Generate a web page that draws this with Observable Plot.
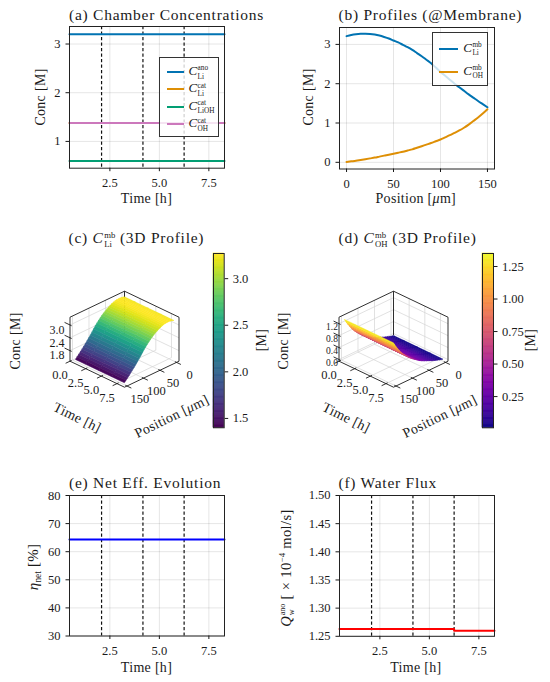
<!DOCTYPE html>
<html><head><meta charset="utf-8">
<script src="https://cdn.jsdelivr.net/npm/d3@7"></script>
<script src="https://cdn.jsdelivr.net/npm/@observablehq/plot@0.6"></script>
<style>
body{margin:0;background:#fff}
#fig{position:relative;width:550px;height:682px;overflow:hidden;background:#fff;font-family:"Liberation Serif",serif;color:#1a1a1a}
.lbl{position:absolute;white-space:nowrap;line-height:1.15;transform-origin:center center}
.ss{display:inline-block;vertical-align:-0.5em;font-size:0.56em;line-height:1.12;text-align:left;margin-left:0.06em;letter-spacing:0}
.ss span{display:block}
.sb{font-size:0.62em;vertical-align:-0.3em;letter-spacing:0}
.sp{font-size:0.62em;vertical-align:0.6em;letter-spacing:0}
#fig svg{position:absolute}
.leg{position:absolute;box-sizing:border-box;border:1px solid #333;background:rgba(255,255,255,0.8)}
.leg .ln{position:absolute;height:2px}
.leg .tx{position:absolute;white-space:nowrap;font-size:13px;line-height:1.15;transform:translateY(-50%)}
</style></head><body><div id="fig"></div><script>
const fig = document.getElementById("fig");
const FONT = "Liberation Serif";

// ---------------- data ----------------
const timeSpan = [0.46, 8.29];                 // h
const cycleMarks = [2.08, 4.17, 6.25];         // dashed markers, h
const timeTicks = [2.5, 5.0, 7.5];

const chamberSup = ["ano", "cat", "cat", "cat"];
const chamberSub = ["Li", "Li", "LiOH", "OH"];
const chamberNames = ["Li ano", "Li cat", "LiOH cat", "OH cat"];
const chamberValues = [3.20, 1.38, 0.60, 1.38];   // M
const chamberColors = ["#0173b2", "#de8f05", "#029e73", "#cc78bc"];

const positions = [0, 5, 10, 15, 20, 25, 30, 35, 40, 45, 50, 55, 60, 65, 70, 75,
  80, 85, 90, 95, 100, 105, 110, 115, 120, 125, 130, 135, 140, 145, 150]; // um
const liProfile = [3.21, 3.24, 3.26, 3.27, 3.27, 3.265, 3.25, 3.225, 3.19, 3.15, 3.10, 3.05, 2.99, 2.93, 2.86, 2.78,
  2.70, 2.61, 2.52, 2.41, 2.30, 2.20, 2.10, 2.00, 1.91, 1.82, 1.73, 1.645, 1.56, 1.48, 1.40];
const ohProfile = [0.01, 0.025, 0.04, 0.06, 0.08, 0.10, 0.12, 0.145, 0.17, 0.195, 0.22, 0.245, 0.27, 0.30, 0.33, 0.37,
  0.41, 0.45, 0.49, 0.535, 0.58, 0.635, 0.69, 0.75, 0.81, 0.88, 0.96, 1.05, 1.14, 1.24, 1.35];
const profileSub = ["Li", "OH"];
const profileColors = ["#0173b2", "#de8f05"];
const posTicks = [0, 50, 100, 150];

const surfaceTimes = [0.46, 2.08, 4.17, 6.25, 8.29];
const time3dTicks = [0.0, 2.5, 5.0, 7.5];
const axisTime3d = [0.0, 8.7];
const axisPos3d = [-7.5, 157.5];
const liZTicks = [1.8, 2.4, 3.0];
const ohZTicks = [0.0, 0.4, 0.8, 1.2];
const liBarTicks = [1.5, 2.0, 2.5, 3.0];
const ohBarTicks = [0.25, 0.50, 0.75, 1.00, 1.25];

const etaTimes = [0.46, 8.29];
const etaValues = [64.3, 64.3];               // %
const etaTicks = [30, 40, 50, 60, 70, 80];

const fluxTimes = [0.46, 6.25, 6.25, 8.29];
const fluxValues = [1.263, 1.263, 1.260, 1.260]; // x1e-4 mol/s
const fluxTicks = [1.25, 1.30, 1.35, 1.40, 1.45, 1.50];

// ---------------- helpers ----------------
const ss = (sup, sub) => `<span class="ss"><span>${sup}</span><span>${sub}</span></span>`;
const mC = (sup, sub) => `<i>C</i>${ss(sup, sub)}`;

function addLabel(html, cx, cy, {size = 14, rot = 0, spacing = 0.3, start = false} = {}) {
  const d = document.createElement("div");
  d.className = "lbl";
  d.innerHTML = html;
  d.style.fontSize = size + "px";
  d.style.letterSpacing = spacing + "px";
  d.style.left = cx + "px";
  d.style.top = cy + "px";
  d.style.transform = `translate(${start ? "0" : "-50%"},-50%) rotate(${rot}deg)`;
  fig.append(d);
}
function place(svg, left, top) {
  svg.style.left = left + "px";
  svg.style.top = top + "px";
  fig.append(svg);
}
const baseStyle = {fontFamily: FONT, fontSize: "12.5px", background: "transparent", overflow: "visible", color: "#1a1a1a"};
const gridStyle = {stroke: "#000", strokeOpacity: 0.13, strokeWidth: 0.8};

function panel2d(o) {
  const ml = 60, mt = 20, mr = 12, mb = 28;
  const svg = Plot.plot({
    width: o.fw + ml + mr, height: o.fh + mt + mb,
    marginLeft: ml, marginTop: mt, marginRight: mr, marginBottom: mb,
    x: {domain: o.xDomain}, y: {domain: o.yDomain},
    color: o.color,
    style: baseStyle,
    marks: [
      Plot.gridX({ticks: o.xTicks, ...gridStyle}),
      Plot.gridY({ticks: o.yTicks, ...gridStyle}),
      ...o.marks,
      Plot.frame({stroke: "#222", strokeWidth: 1}),
      Plot.axisX({ticks: o.xTicks, tickSize: 3.5, tickPadding: 6.5, tickFormat: o.xFmt, label: null}),
      Plot.axisY({ticks: o.yTicks, tickSize: 3.5, tickPadding: 5.5, tickFormat: o.yFmt, label: null})
    ]
  });
  place(svg, o.fx - ml, o.fy - mt);
}
const dashed = () => Plot.ruleX(cycleMarks, {stroke: "#111", strokeWidth: 1.2, strokeDasharray: "3.2,2.3"});
const f1 = d3.format(".1f");

// ---------------- (a) ----------------
const chamberRows = chamberNames.flatMap((n, i) => timeSpan.map(t => ({t, c: chamberValues[i], n})));
panel2d({
  fx: 69, fy: 26.3, fw: 155, fh: 141.7,
  xDomain: timeSpan, yDomain: [0.45, 3.36], xTicks: timeTicks, yTicks: [1, 2, 3],
  xFmt: f1, yFmt: d3.format("d"),
  color: {domain: chamberNames, range: chamberColors},
  marks: [dashed(), Plot.line(chamberRows, {x: "t", y: "c", z: "n", stroke: "n", strokeWidth: 2})]
});
{
  const leg = document.createElement("div");
  leg.className = "leg";
  Object.assign(leg.style, {left: "159px", top: "57px", width: "60px", height: "80px"});
  chamberNames.forEach((n, i) => {
    const y = 14 + i * 17.4;
    const ln = document.createElement("div");
    ln.className = "ln";
    Object.assign(ln.style, {left: "7px", top: (y - 1) + "px", width: "17px", background: chamberColors[i]});
    const tx = document.createElement("div");
    tx.className = "tx";
    tx.style.left = "28.5px"; tx.style.top = y + "px";
    tx.innerHTML = mC(chamberSup[i], chamberSub[i]);
    leg.append(ln, tx);
  });
  fig.append(leg);
}
addLabel("(a) Chamber Concentrations", 69, 15, {size: 15.5, spacing: 0.75, start: true});
addLabel("Conc [M]", 41, 97, {rot: -90});
addLabel("Time [h]", 146.5, 199.3);

// ---------------- (b) ----------------
const profileRows = [
  ...positions.map((p, i) => ({p, c: liProfile[i], n: profileSub[0]})),
  ...positions.map((p, i) => ({p, c: ohProfile[i], n: profileSub[1]}))
];
panel2d({
  fx: 338.5, fy: 26.5, fw: 155, fh: 141.5,
  xDomain: axisPos3d, yDomain: [-0.17, 3.43], xTicks: posTicks, yTicks: [0, 1, 2, 3],
  xFmt: d3.format("d"), yFmt: d3.format("d"),
  color: {domain: profileSub, range: profileColors},
  marks: [Plot.line(profileRows, {x: "p", y: "c", z: "n", stroke: "n", strokeWidth: 2, curve: "monotone-x"})]
});
{
  const leg = document.createElement("div");
  leg.className = "leg";
  Object.assign(leg.style, {left: "432.3px", top: "32.3px", width: "56px", height: "53.4px"});
  profileSub.forEach((n, i) => {
    const y = 15.4 + i * 23;
    const ln = document.createElement("div");
    ln.className = "ln";
    Object.assign(ln.style, {left: "6px", top: (y - 1) + "px", width: "19px", background: profileColors[i]});
    const tx = document.createElement("div");
    tx.className = "tx";
    tx.style.left = "30px"; tx.style.top = y + "px";
    tx.innerHTML = mC("mb", n);
    leg.append(ln, tx);
  });
  fig.append(leg);
}
addLabel("(b) Profiles (@Membrane)", 338.5, 15, {size: 15.5, spacing: 0.75, start: true});
addLabel("Conc [M]", 309, 97, {rot: -90});
addLabel("Position [<i>μ</i>m]", 415.8, 199.3);

// ---------------- 3D panels ----------------
function panel3d(o) {
  const A = 54.5, Bv = 26, Hz = 44;
  const tS = d3.scaleLinear(axisTime3d, [0, 1]);
  const pS = d3.scaleLinear(axisPos3d, [0, 1]);
  const ext = d3.extent(o.profile), r = ext[1] - ext[0];
  const zS = d3.scaleLinear([ext[0] - 0.05 * r, ext[1] + 0.05 * r], [0, 1]);
  const P = (u, v, w) => [o.Bx + A * (u - v), o.By + Bv * (u + v) - Hz * w];
  const seg = (p, q) => { const a = P(...p), b = P(...q); return {x1: a[0], y1: a[1], x2: b[0], y2: b[1]}; };

  const grid = [];
  time3dTicks.forEach(t => { const u = tS(t); grid.push(seg([u, 0, 0], [u, 1, 0]), seg([u, 0, 0], [u, 0, 1])); });
  posTicks.forEach(p => { const v = pS(p); grid.push(seg([0, v, 0], [1, v, 0]), seg([0, v, 0], [0, v, 1])); });
  o.zTicks.forEach(z => { const w = zS(z); grid.push(seg([0, 0, w], [0, 1, w]), seg([0, 0, w], [1, 0, w])); });

  const edges = [
    seg([0, 1, 1], [0, 0, 1]), seg([0, 0, 1], [1, 0, 1]), seg([0, 0, 0], [0, 0, 1]),
    seg([0, 1, 0], [0, 1, 1]), seg([1, 0, 0], [1, 0, 1]),
    seg([0, 1, 0], [1, 1, 0]), seg([1, 1, 0], [1, 0, 0])
  ];
  const ticks = [
    ...time3dTicks.map(t => seg([tS(t), 0.97, 0], [tS(t), 1.08, 0])),
    ...posTicks.map(p => seg([0.97, pS(p), 0], [1.08, pS(p), 0])),
    ...o.zTicks.map(z => seg([0.03, 1, zS(z)], [-0.1, 1, zS(z)]))
  ];
  const labels = [], zLabels = [];
  time3dTicks.forEach(t => { const [x, y] = P(tS(t), 1, 0); labels.push({x: x - 10, y: y + 14, s: f1(t), a: "middle"}); });
  posTicks.forEach(p => { const [x, y] = P(1, pS(p), 0); labels.push({x: x + 13, y: y + 12.5, s: String(p), a: "middle"}); });
  o.zTicks.forEach(z => { const [x, y] = P(0, 1, zS(z)); zLabels.push({x: x - o.zGap, y: y + o.zDy, s: f1(z), a: "end"}); });

  const quads = [];
  let id = 0;
  for (let j = 0; j < positions.length - 1; j++) {
    for (let k = 0; k < surfaceTimes.length - 1; k++) {
      const u0 = tS(surfaceTimes[k]), u1 = tS(surfaceTimes[k + 1]);
      const v0 = pS(positions[j]), v1 = pS(positions[j + 1]);
      const w0 = zS(o.profile[j]), w1 = zS(o.profile[j + 1]);
      const c = (o.profile[j] + o.profile[j + 1]) / 2;
      [[u0, v0, w0], [u1, v0, w0], [u1, v1, w1], [u0, v1, w1], [u0, v0, w0]].forEach(pt => {
        const [x, y] = P(...pt);
        quads.push({x, y, id, c});
      });
      id++;
    }
  }

  const X0 = o.Bx - 124, Y0 = 250, W = 230, H = 170;
  const svg = Plot.plot({
    width: W, height: H, marginLeft: 0, marginRight: 0, marginTop: 0, marginBottom: 0,
    x: {domain: [X0, X0 + W], range: [0, W], axis: null},
    y: {domain: [Y0, Y0 + H], range: [0, H], axis: null},
    color: {type: "linear", scheme: o.scheme, domain: ext},
    style: baseStyle,
    marks: [
      Plot.link(grid, {x1: "x1", y1: "y1", x2: "x2", y2: "y2", stroke: "#d4d4d4", strokeWidth: 0.7}),
      Plot.link(edges, {x1: "x1", y1: "y1", x2: "x2", y2: "y2", stroke: "#1a1a1a", strokeWidth: 0.9}),
      Plot.line(quads, {x: "x", y: "y", z: "id", fill: "c", stroke: "c", strokeWidth: 0.5}),
      Plot.link(ticks, {x1: "x1", y1: "y1", x2: "x2", y2: "y2", stroke: "#1a1a1a", strokeWidth: 0.9}),
      Plot.text(labels, {x: "x", y: "y", text: "s", textAnchor: "a", fontSize: 12.5, fill: "#1a1a1a"}),
      Plot.text(zLabels, {x: "x", y: "y", text: "s", textAnchor: "a", fontSize: o.zFont, fill: "#1a1a1a"})
    ]
  });
  place(svg, X0, Y0);

  // colorbar
  const n = 150;
  const stops = d3.range(n).map(i => ({lo: ext[0] + r * i / n, hi: ext[0] + r * (i + 1) / n}));
  const bw = o.barX1 - o.barX0, y0 = 252.7, y1 = 427;
  const bar = Plot.plot({
    width: bw + 5 + 45, height: (y1 - y0) + 20,
    marginLeft: 5, marginRight: 45, marginTop: 10, marginBottom: 10,
    x: {domain: [0, 1], axis: null}, y: {domain: ext, axis: null},
    color: {type: "linear", scheme: o.scheme, domain: ext},
    style: baseStyle,
    marks: [
      Plot.rect(stops, {x1: () => 0, x2: () => 1, y1: "lo", y2: "hi", fill: d => (d.lo + d.hi) / 2, stroke: d => (d.lo + d.hi) / 2, strokeWidth: 0.6}),
      Plot.frame({stroke: "#222", strokeWidth: 1}),
      Plot.axisY({anchor: "right", ticks: o.barTicks, tickFormat: o.barFmt, tickSize: 3.5, tickPadding: 5, label: null})
    ]
  });
  place(bar, o.barX0 - 5, y0 - 10);

  // text labels
  addLabel(o.title, o.titleX, 240, {size: 15.5, spacing: 0.75, start: true});
  const L = P(0, 1, 0), F = P(1, 1, 0), R = P(1, 0, 0);
  addLabel("Conc [M]", L[0] - 54, 340.5, {rot: -90});
  addLabel("Time [h]", (L[0] + F[0]) / 2 - 19.5, (L[1] + F[1]) / 2 + 44.5, {rot: 26});
  addLabel("Position [<i>μ</i>m]", (F[0] + R[0]) / 2 + 20.5, (F[1] + R[1]) / 2 + 43, {rot: -26});
  addLabel("[M]", o.barX1 + 37.7, 339.5, {rot: -90});
}

panel3d({
  Bx: 124, By: 334.7, profile: liProfile, scheme: "viridis", zTicks: liZTicks, zGap: 13, zDy: 5, zFont: 12,
  barX0: 213.3, barX1: 224, barTicks: liBarTicks, barFmt: d3.format(".1f"),
  title: `(c) ${mC("mb", "Li")} (3D Profile)`, titleX: 68.5
});
panel3d({
  Bx: 392.5, By: 334.7, profile: ohProfile, scheme: "plasma", zTicks: ohZTicks, zGap: 7, zDy: 3, zFont: 9.5,
  barX0: 482.3, barX1: 493.3, barTicks: ohBarTicks, barFmt: d3.format(".2f"),
  title: `(d) ${mC("mb", "OH")} (3D Profile)`, titleX: 338.5
});

// ---------------- (e) ----------------
panel2d({
  fx: 69, fy: 495, fw: 155, fh: 140.5,
  xDomain: timeSpan, yDomain: [30, 80], xTicks: timeTicks, yTicks: etaTicks,
  xFmt: f1, yFmt: d3.format("d"),
  marks: [dashed(), Plot.line(etaTimes.map((t, i) => ({t, v: etaValues[i]})), {x: "t", y: "v", stroke: "#0000ff", strokeWidth: 2})]
});
addLabel("(e) Net Eff. Evolution", 69, 482.7, {size: 15.5, spacing: 0.75, start: true});
addLabel(`<i>η</i><span class="sb">net</span> [%]`, 34, 566.5, {rot: -90, size: 15});
addLabel("Time [h]", 146.5, 667.5);

// ---------------- (f) ----------------
panel2d({
  fx: 338.5, fy: 494.8, fw: 155, fh: 140.8,
  xDomain: timeSpan, yDomain: [1.25, 1.50], xTicks: timeTicks, yTicks: fluxTicks,
  xFmt: f1, yFmt: d3.format(".2f"),
  marks: [dashed(), Plot.line(fluxTimes.map((t, i) => ({t, v: fluxValues[i]})), {x: "t", y: "v", stroke: "#ff0000", strokeWidth: 2})]
});
addLabel("(f) Water Flux", 338.5, 482.7, {size: 15.5, spacing: 0.75, start: true});
addLabel(`<i>Q</i>${ss("ano", "w")} [ × 10<span class="sp">−4</span> mol/s]`, 287, 568, {rot: -90, size: 14.5, spacing: 0.4});
addLabel("Time [h]", 415.8, 668);
</script></body></html>
